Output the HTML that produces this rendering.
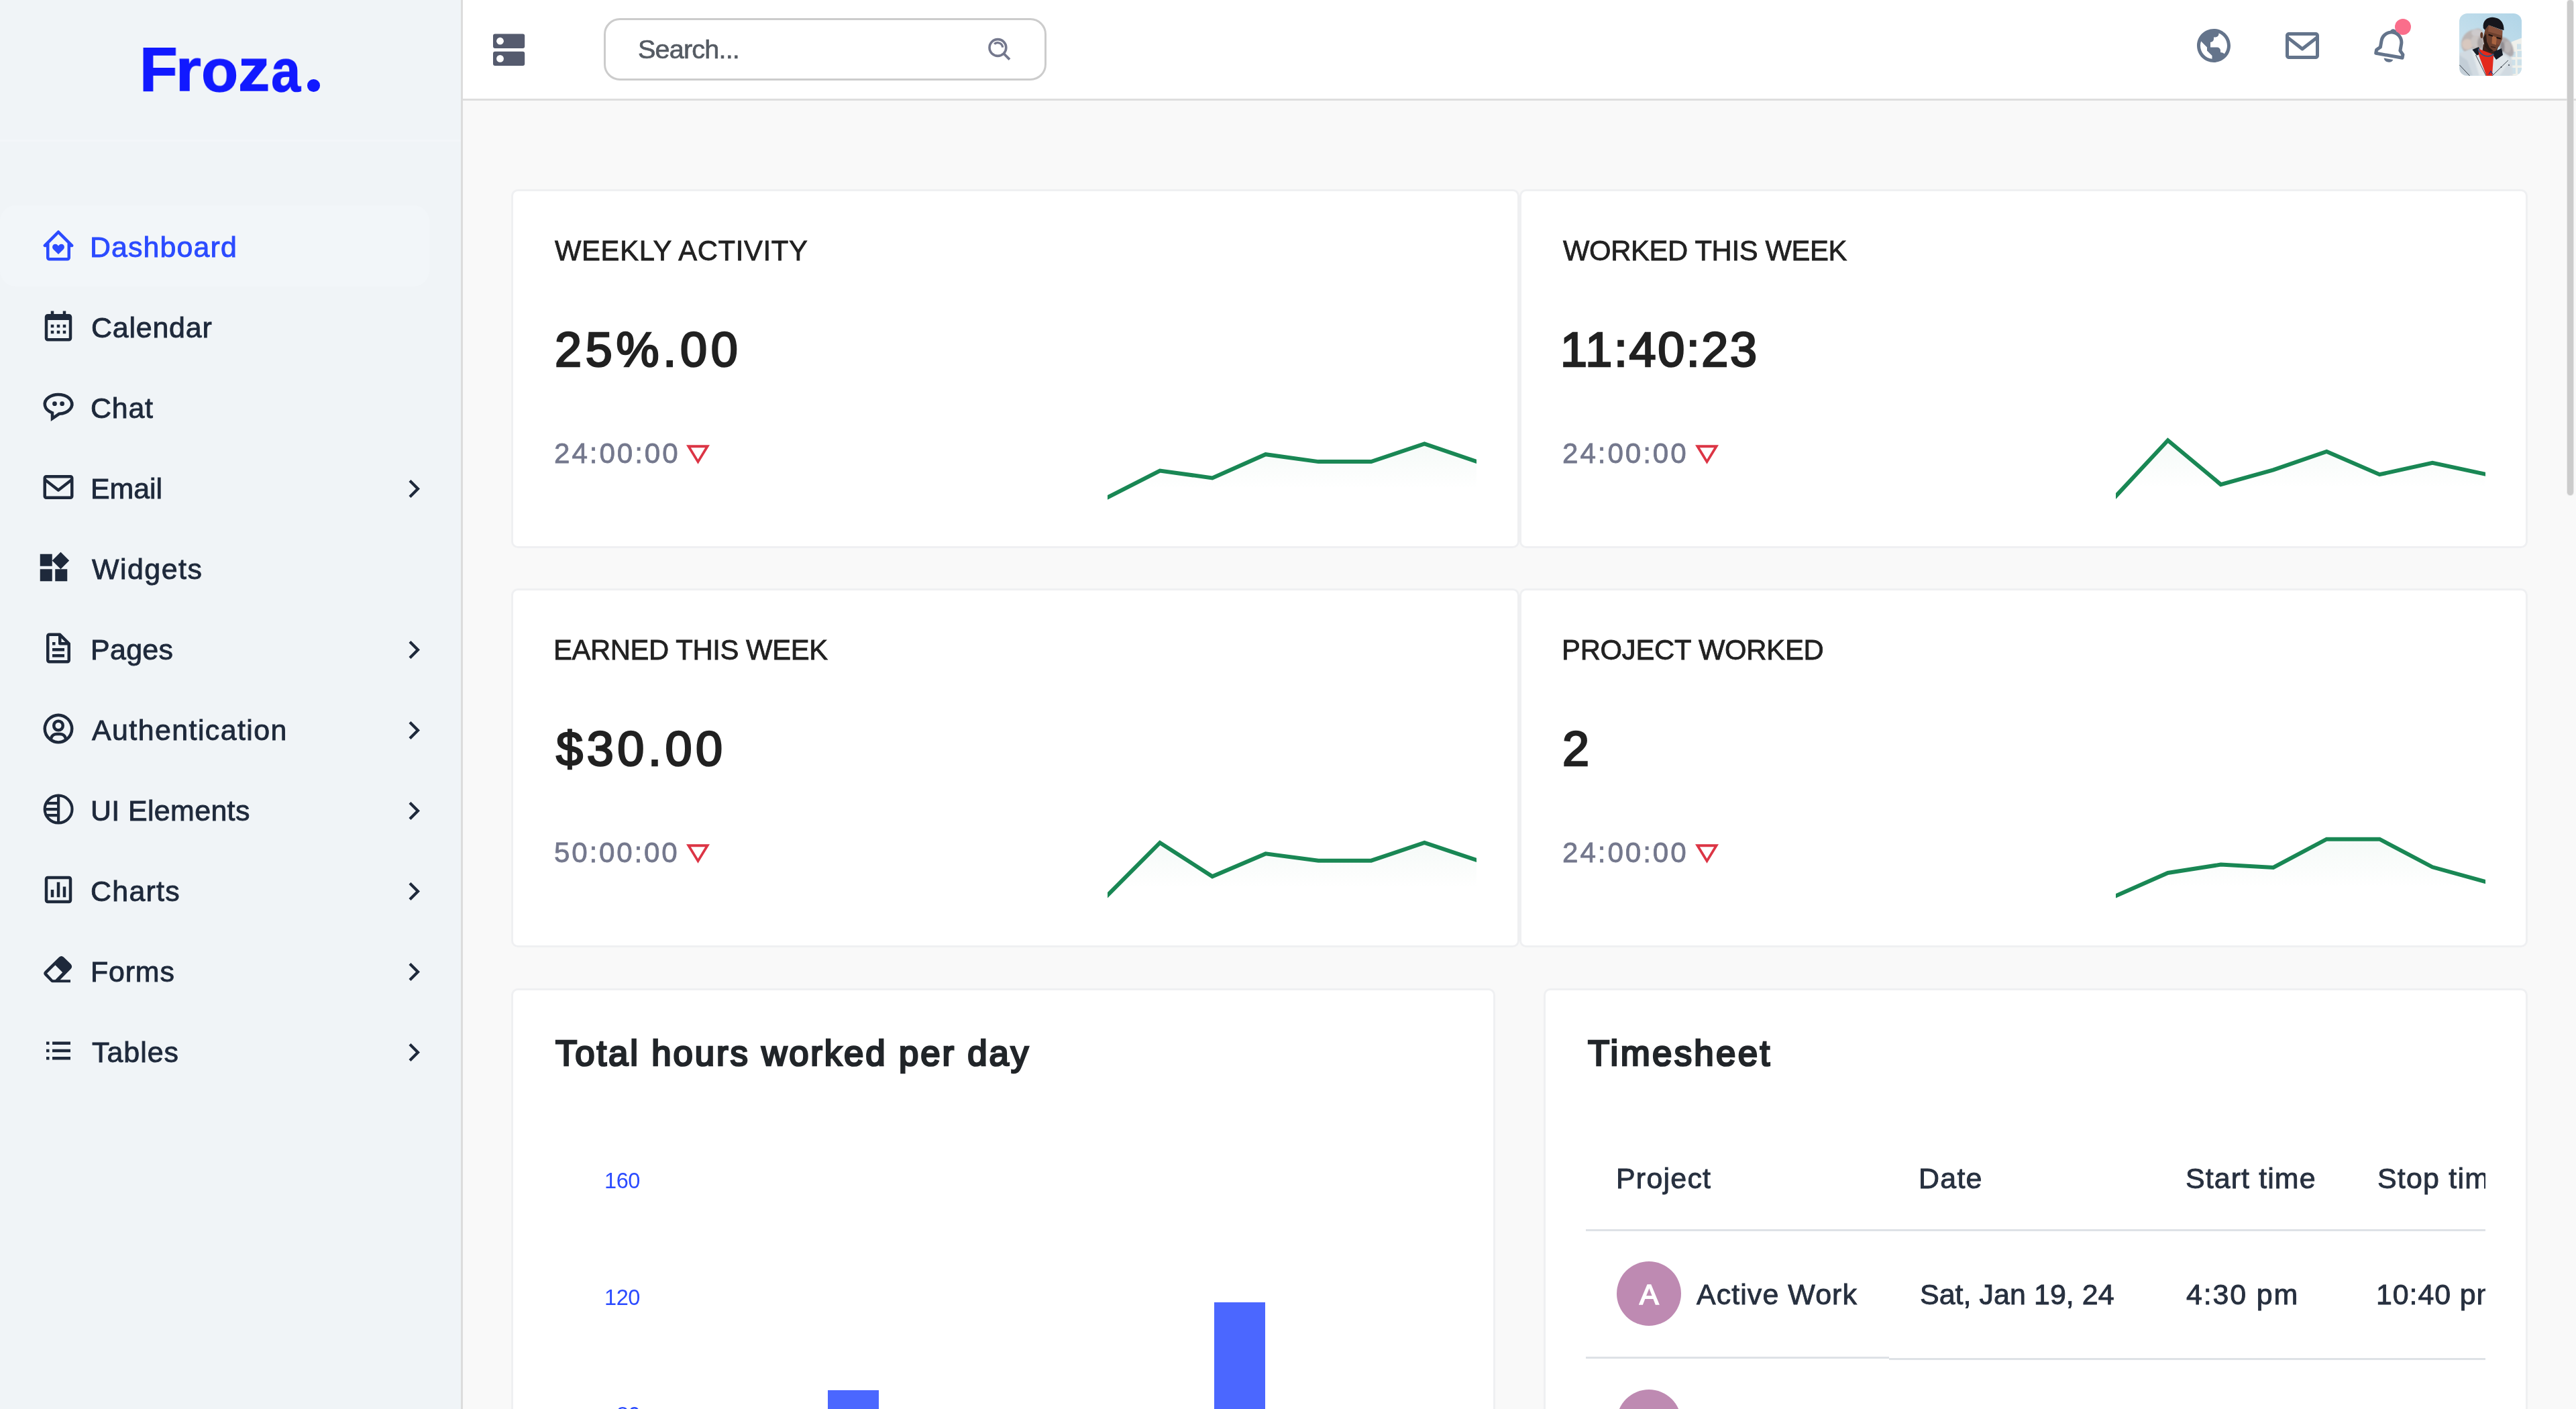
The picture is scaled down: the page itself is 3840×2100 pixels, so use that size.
<!DOCTYPE html>
<html lang="en">
<head>
<meta charset="utf-8">
<title>Froza - Dashboard</title>
<style>
*{box-sizing:border-box;margin:0;padding:0}
html,body{width:3840px;height:2100px;background:#f9f9f9;font-family:"Liberation Sans",sans-serif;}
#page{position:relative;width:3840px;height:2100px;overflow:hidden;background:#f9f9f9}
@media (min-resolution:2.5dppx){html{zoom:.333333}}
@media (min-resolution:1.5dppx) and (max-resolution:2.49dppx){html{zoom:.5}}
.abs{position:absolute}
.t{position:absolute;white-space:nowrap;line-height:1;font-family:"Liberation Sans",sans-serif;will-change:transform}
svg{position:absolute;overflow:visible}
#sidebar{position:absolute;left:0;top:0;width:690px;height:2100px;background:#f0f4f7;border-right:3px solid #dcdcdc}
#sidebar .sep{position:absolute;left:0;top:208px;width:687px;height:3px;background:#f3f6f9}
#sidebar .active{position:absolute;left:0;top:306px;width:640px;height:121px;border-radius:24px;background:#f2f6f9}
#topbar{position:absolute;left:690px;top:0;width:3150px;height:150px;background:#fff;border-bottom:3px solid #dedede}
#search{position:absolute;left:210px;top:27px;width:660px;height:93px;border:3px solid #cccccc;border-radius:24px;background:#fff}
#main{position:absolute;left:690px;top:150px;width:3150px;height:1950px;background:#f9f9f9;overflow:hidden}
.card{position:absolute;background:#fff;border:3px solid #eff0f2;border-radius:10px}
ul{list-style:none}a{text-decoration:none;color:inherit}
.dot{position:absolute;border-radius:50%}
#thumb{position:absolute;left:3826.5px;top:0;width:9px;height:738px;border-radius:4.5px;background:#cccccc;box-shadow:0 0 0 1px rgba(225,225,225,.7)}
.hr{position:absolute;height:3px;background:#dee2e6}
</style>
</head>
<body>
<div id="page">
<aside id="sidebar">
  <div class="sep"></div>
  <a href="#" class="brand"><span class="t" style="left:207.70px;top:56.30px;font-size:93.5px;color:#1119ff;font-weight:700;-webkit-text-stroke:1.4px #1119ff;transform:scale(0.9919,1.0000);transform-origin:5.30px 79.00px">F</span><span class="t" style="left:261.70px;top:56.33px;font-size:93.5px;color:#1119ff;font-weight:700;-webkit-text-stroke:1.4px #1119ff;transform:scale(1.0428,0.9550);transform-origin:5.30px 79.00px">r</span><span class="t" style="left:299.50px;top:56.93px;font-size:93.5px;color:#1119ff;font-weight:700;-webkit-text-stroke:1.4px #1119ff;transform:scale(0.9599,0.9550);transform-origin:2.30px 79.00px">o</span><span class="t" style="left:354.80px;top:56.33px;font-size:93.5px;color:#1119ff;font-weight:700;-webkit-text-stroke:1.4px #1119ff;transform:scale(1.0094,0.9550);transform-origin:2.30px 79.00px">z</span><span class="t" style="left:404.20px;top:56.93px;font-size:93.5px;color:#1119ff;font-weight:700;-webkit-text-stroke:1.4px #1119ff;transform:scale(0.8416,0.9550);transform-origin:1.30px 79.00px">a</span><span class="dot" style="left:458px;top:118.3px;width:19.2px;height:18.6px;background:#1119ff"></span></a>
  <nav>
    <div class="active"></div>
    <ul>
      <li class="on"><a href="#"><svg style="left:60px;top:339.3px" width="54" height="54" viewBox="0 0 24 24" fill="#2b4bff" ><path d="M12.71 2.29a1 1 0 0 0-1.42 0l-9 9a1 1 0 0 0 0 1.42A1 1 0 0 0 3 13h1v7a2 2 0 0 0 2 2h12a2 2 0 0 0 2-2v-7h1a1 1 0 0 0 1-1 1 1 0 0 0-.29-.71zM6 20v-9.59l6-6 6 6V20z"/><path d="M12 17.8 8.6 14.4A2 2 0 0 1 8.6 11.6 2 2 0 0 1 11.4 11.6L12 12.2 12.6 11.6A2 2 0 0 1 15.4 11.6 2 2 0 0 1 15.4 14.4Z"/></svg><span class="t" style="left:134.05px;top:346.65px;font-size:42.9px;color:#2b4bff;letter-spacing:1.116px;-webkit-text-stroke:0.9px #2b4bff">Dashboard</span></a></li>
      <li><a href="#"><svg style="left:60px;top:459.3px" width="54" height="54" viewBox="0 0 24 24" fill="#1e293b" ><path d="M7 11h2v2H7zm0 4h2v2H7zm4-4h2v2h-2zm0 4h2v2h-2zm4-4h2v2h-2zm0 4h2v2h-2z"/><path d="M5 22h14c1.103 0 2-.897 2-2V6c0-1.103-.897-2-2-2h-2V2h-2v2H9V2H7v2H5c-1.103 0-2 .897-2 2v14c0 1.103.897 2 2 2zM19 8l.001 12H5V8h14z"/></svg><span class="t" style="left:135.89px;top:466.65px;font-size:42.9px;color:#1e293b;letter-spacing:0.804px;-webkit-text-stroke:0.9px #1e293b">Calendar</span></a></li>
      <li><a href="#"><svg style="left:60px;top:579.0px" width="54" height="54" viewBox="0 0 24 24" fill="#1e293b" ><path d="M8 19.9 V16.13 A9 6.4 0 1 1 12.5 16.79 Z" fill="none" stroke="#1e293b" stroke-width="2" stroke-linejoin="miter"/><circle cx="9.55" cy="10.1" r="1.5"/><circle cx="14.5" cy="10.1" r="1.5"/></svg><span class="t" style="left:135.20px;top:586.65px;font-size:42.9px;color:#1e293b;letter-spacing:0.806px;-webkit-text-stroke:0.9px #1e293b">Chat</span></a></li>
      <li><a href="#"><svg style="left:60px;top:699.3px" width="54" height="54" viewBox="0 0 24 24" fill="#1e293b" ><path d="M20 4H4c-1.103 0-2 .897-2 2v12c0 1.103.897 2 2 2h16c1.103 0 2-.897 2-2V6c0-1.103-.897-2-2-2zm0 2v.511l-8 6.223-8-6.222V6h16zM4 18V9.044l7.386 5.745a.994.994 0 0 0 1.228 0L20 9.044 20.002 18H4z"/></svg><span class="t" style="left:135.45px;top:706.65px;font-size:42.9px;color:#1e293b;letter-spacing:-0.055px;-webkit-text-stroke:0.9px #1e293b">Email</span><svg style="left:592.1px;top:703.1px" width="51" height="51" viewBox="0 0 24 24" fill="#1e293b" ><path d="M13.1717 12.0007L8.22192 7.05093L9.63614 5.63672L16.0001 12.0007L9.63614 18.3646L8.22192 16.9504L13.1717 12.0007Z"/></svg></a></li>
      <li><a href="#"><svg style="left:53.35px;top:819.3px" width="54" height="54" viewBox="0 0 24 24" fill="#1e293b" ><path d="M13 13v8h8v-8h-8zM3 21h8v-8H3v8zM3 3v8h8V3H3zm13.66-1.31L11 7.34 16.66 13l5.66-5.66-5.66-5.65z"/></svg><span class="t" style="left:136.75px;top:826.65px;font-size:42.9px;color:#1e293b;letter-spacing:1.485px;-webkit-text-stroke:0.9px #1e293b">Widgets</span></a></li>
      <li><a href="#"><svg style="left:60px;top:939.3px" width="54" height="54" viewBox="0 0 24 24" fill="#1e293b" ><path d="M19.903 8.586a.997.997 0 0 0-.196-.293l-6-6a.997.997 0 0 0-.293-.196c-.03-.014-.062-.022-.094-.033a.991.991 0 0 0-.259-.051C13.04 2.011 13.021 2 13 2H6c-1.103 0-2 .897-2 2v16c0 1.103.897 2 2 2h12c1.103 0 2-.897 2-2V9c0-.021-.011-.04-.013-.062a.952.952 0 0 0-.051-.259c-.01-.032-.019-.063-.033-.093zM16.586 8H14V5.414L16.586 8zM6 20V4h6v5a1 1 0 0 0 1 1h5l.002 10H6z"/><path d="M8 12h8v2H8zm0 4h8v2H8zm0-8h2v2H8z"/></svg><span class="t" style="left:135.45px;top:946.65px;font-size:42.9px;color:#1e293b;letter-spacing:0.333px;-webkit-text-stroke:0.9px #1e293b">Pages</span><svg style="left:592.1px;top:943.1px" width="51" height="51" viewBox="0 0 24 24" fill="#1e293b" ><path d="M13.1717 12.0007L8.22192 7.05093L9.63614 5.63672L16.0001 12.0007L9.63614 18.3646L8.22192 16.9504L13.1717 12.0007Z"/></svg></a></li>
      <li><a href="#"><svg style="left:60px;top:1059.3px" width="54" height="54" viewBox="0 0 24 24" fill="#1e293b" ><path d="M12 2A10.13 10.13 0 0 0 2 12a10 10 0 0 0 4 7.92V20h.1a9.7 9.7 0 0 0 11.8 0h.1v-.08A10 10 0 0 0 22 12 10.13 10.13 0 0 0 12 2zM8.07 18.93A3 3 0 0 1 11 16.57h2a3 3 0 0 1 2.93 2.36 7.75 7.75 0 0 1-7.86 0zm9.54-1.29A5 5 0 0 0 13 14.57h-2a5 5 0 0 0-4.61 3.07A8 8 0 0 1 4 12a8.1 8.1 0 0 1 8-8 8.1 8.1 0 0 1 8 8 8 8 0 0 1-2.39 5.64z"/><path d="M12 6a3.91 3.91 0 0 0-4 4 3.91 3.91 0 0 0 4 4 3.91 3.91 0 0 0 4-4 3.91 3.91 0 0 0-4-4zm0 6a1.91 1.91 0 0 1-2-2 1.91 1.91 0 0 1 2-2 1.91 1.91 0 0 1 2 2 1.91 1.91 0 0 1-2 2z"/></svg><span class="t" style="left:137.25px;top:1066.65px;font-size:42.9px;color:#1e293b;letter-spacing:1.432px;-webkit-text-stroke:0.9px #1e293b">Authentication</span><svg style="left:592.1px;top:1063.1px" width="51" height="51" viewBox="0 0 24 24" fill="#1e293b" ><path d="M13.1717 12.0007L8.22192 7.05093L9.63614 5.63672L16.0001 12.0007L9.63614 18.3646L8.22192 16.9504L13.1717 12.0007Z"/></svg></a></li>
      <li><a href="#"><svg style="left:60px;top:1179.3px" width="54" height="54" viewBox="0 0 24 24" fill="#1e293b" ><g fill="none" stroke="#1e293b" stroke-width="1.85"><circle cx="12.05" cy="12.05" r="9.07"/><path d="M12.05 3v18.1M3.6 8.05h8.4M3 12.05h9M3.6 16.05h8.4"/></g></svg><span class="t" style="left:135.15px;top:1186.65px;font-size:42.9px;color:#1e293b;letter-spacing:0.375px;-webkit-text-stroke:0.9px #1e293b">UI Elements</span><svg style="left:592.1px;top:1183.1px" width="51" height="51" viewBox="0 0 24 24" fill="#1e293b" ><path d="M13.1717 12.0007L8.22192 7.05093L9.63614 5.63672L16.0001 12.0007L9.63614 18.3646L8.22192 16.9504L13.1717 12.0007Z"/></svg></a></li>
      <li><a href="#"><svg style="left:60px;top:1299.3px" width="54" height="54" viewBox="0 0 24 24" fill="#1e293b" ><path d="M3 5v14c0 1.103.897 2 2 2h14c1.103 0 2-.897 2-2V5c0-1.103-.897-2-2-2H5c-1.103 0-2 .897-2 2zm16.001 14H5V5h14l.001 14z"/><path d="M11 7h2v10h-2zm4 3h2v7h-2zm-8 2h2v5H7z"/></svg><span class="t" style="left:134.85px;top:1306.65px;font-size:42.9px;color:#1e293b;letter-spacing:1.276px;-webkit-text-stroke:0.9px #1e293b">Charts</span><svg style="left:592.1px;top:1303.1px" width="51" height="51" viewBox="0 0 24 24" fill="#1e293b" ><path d="M13.1717 12.0007L8.22192 7.05093L9.63614 5.63672L16.0001 12.0007L9.63614 18.3646L8.22192 16.9504L13.1717 12.0007Z"/></svg></a></li>
      <li><a href="#"><svg style="left:60px;top:1420.3px" width="54" height="54" viewBox="0 0 24 24" fill="#1e293b" ><path fill-rule="evenodd" d="M8.0 19.7 Q7.55 19.7 7.2 19.35 L2.9 15.0 Q1.7 13.6 2.9 12.3 L12.5 2.9 Q14 1.55 15.5 2.9 L20.2 7.4 Q21.7 9.1 20.2 10.8 L13.2 17.85 H20 V19.7 ZM9.98 8.2 L14.75 13 L10.0 17.85 H8.35 L4.45 13.65 Z"/></svg><span class="t" style="left:135.15px;top:1426.65px;font-size:42.9px;color:#1e293b;letter-spacing:0.834px;-webkit-text-stroke:0.9px #1e293b">Forms</span><svg style="left:592.1px;top:1423.1px" width="51" height="51" viewBox="0 0 24 24" fill="#1e293b" ><path d="M13.1717 12.0007L8.22192 7.05093L9.63614 5.63672L16.0001 12.0007L9.63614 18.3646L8.22192 16.9504L13.1717 12.0007Z"/></svg></a></li>
      <li><a href="#"><svg style="left:60px;top:1539.3px" width="54" height="54" viewBox="0 0 24 24" fill="#1e293b" ><path d="M4 6h2v2H4zm0 5h2v2H4zm0 5h2v2H4zm16-8V6H8.023v2H18.8zM8 11h12v2H8zm0 5h12v2H8z"/></svg><span class="t" style="left:137.45px;top:1546.65px;font-size:42.9px;color:#1e293b;letter-spacing:0.993px;-webkit-text-stroke:0.9px #1e293b">Tables</span><svg style="left:592.1px;top:1543.1px" width="51" height="51" viewBox="0 0 24 24" fill="#1e293b" ><path d="M13.1717 12.0007L8.22192 7.05093L9.63614 5.63672L16.0001 12.0007L9.63614 18.3646L8.22192 16.9504L13.1717 12.0007Z"/></svg></a></li>
    </ul>
  </nav>
</aside>
<header id="topbar">
  <!-- menu toggle -->
  <svg style="left:45px;top:50px" width="48" height="49" viewBox="0 0 48 49">
    <rect x="0" y="0.6" width="47.2" height="21.3" rx="3" fill="#555b6e"/>
    <rect x="0" y="26.8" width="47.2" height="21.3" rx="3" fill="#555b6e"/>
    <circle cx="10.5" cy="11.2" r="5.4" fill="#fff"/><circle cx="10.5" cy="37.4" r="5.4" fill="#fff"/>
  </svg>
  <div id="search">
    <span class="t" style="left:48.35px;top:24.25px;font-size:39.6px;color:#555b63;letter-spacing:-0.824px;-webkit-text-stroke:0.7px #555b63">Search...</span>
    <svg style="left:567px;top:24px" width="42" height="42" viewBox="0 0 42 42" fill="none" stroke="#74788d" stroke-width="3.6">
      <circle cx="17.4" cy="17" r="12.4"/>
      <path d="M26.4 26 L35 34.6" stroke-width="3.8"/>
      <path d="M12.2 11.6 A7.4 7.4 0 0 1 24.6 16.6" stroke-width="3.2"/>
    </svg>
  </div>
  <svg style="left:2580px;top:38px" width="60" height="60" viewBox="0 0 24 24" fill="#64748b" ><path d="M12 2C6.486 2 2 6.486 2 12s4.486 10 10 10 10-4.486 10-10S17.514 2 12 2zM4 12c0-.899.156-1.762.431-2.569L6 11l2 2v2l2 2 1 1v1.931C7.061 19.436 4 16.072 4 12zm14.33 4.873C17.677 16.347 16.687 16 16 16v-1a2 2 0 0 0-2-2h-4v-3a2 2 0 0 0 2-2V7h1a2 2 0 0 0 2-2v-.411C17.928 5.778 20 8.65 20 12a7.947 7.947 0 0 1-1.67 4.873z"/></svg>
  <svg style="left:2712px;top:38px" width="60" height="60" viewBox="0 0 24 24" fill="#64748b" ><path d="M20 4H4c-1.103 0-2 .897-2 2v12c0 1.103.897 2 2 2h16c1.103 0 2-.897 2-2V6c0-1.103-.897-2-2-2zm0 2v.511l-8 6.223-8-6.222V6h16zM4 18V9.044l7.386 5.745a.994.994 0 0 0 1.228 0L20 9.044 20.002 18H4z"/></svg>
  <span class="dot" style="left:2880px;top:28px;width:24px;height:24px;background:#fa6e8b"></span>
  <svg style="transform:rotate(10deg);left:2844px;top:38px" width="60" height="60" viewBox="0 0 24 24" fill="#64748b" ><path d="M19 13.586V10c0-3.217-2.185-5.927-5.145-6.742C13.562 2.52 12.846 2 12 2s-1.562.52-1.855 1.258C7.185 4.074 5 6.783 5 10v3.586l-1.707 1.707A.996.996 0 0 0 3 16v2a1 1 0 0 0 1 1h16a1 1 0 0 0 1-1v-2a.996.996 0 0 0-.293-.707L19 13.586zM19 17H5v-.586l1.707-1.707A.996.996 0 0 0 7 14v-4c0-2.757 2.243-5 5-5s5 2.243 5 5v4c0 .266.105.52.293.707L19 16.414V17zm-7 5a2.98 2.98 0 0 0 2.818-2H9.182A2.98 2.98 0 0 0 12 22z"/></svg>
  <svg style="left:2976px;top:20px" width="93" height="93" viewBox="0 0 93 93">
    <defs>
      <linearGradient id="sky" x1="0.8" y1="0" x2="0.2" y2="1"><stop offset="0" stop-color="#b3d6e8"/><stop offset="1" stop-color="#d2e6ef"/></linearGradient>
      <filter id="b1" x="-20%" y="-20%" width="140%" height="140%"><feGaussianBlur stdDeviation="0.7"/></filter>
      <filter id="b2" x="-30%" y="-30%" width="160%" height="160%"><feGaussianBlur stdDeviation="2"/></filter>
      <filter id="b3" x="-30%" y="-30%" width="160%" height="160%"><feGaussianBlur stdDeviation="1.2"/></filter>
      <clipPath id="avc"><rect width="93" height="93" rx="12"/></clipPath>
    </defs>
    <g clip-path="url(#avc)">
      <rect width="93" height="93" fill="url(#sky)"/>
      <g filter="url(#b1)">
        <path d="M77.5 42.5 L93 36.5 V93 H75 Z" fill="#eff0eb"/>
        <path d="M86 45.5h6v8h-6zM78.5 57h5.5v8h-5.5zM86.5 56h6.5v9h-6.5zM78 69h5.5v8.500h-5.500zM86.500 68.500h6.500v9h-6.500zM78 81h6v9h-6zM87 81h6v9h-6z" fill="#cde1ea"/>
      </g>
      <g filter="url(#b3)">
        <path d="M4 52 C0 40 8 26 22 24 C30 20 36 24 36 32 L38 50 L30 56 L18 54 L8 58 Z" fill="#bcb5b4"/>
        <ellipse cx="26" cy="29" rx="8" ry="5.500" fill="#cdcacc"/>
        <ellipse cx="12" cy="46" rx="8" ry="8" fill="#d8c8bf"/>
        <ellipse cx="24" cy="42" rx="7" ry="9" fill="#cbc5c3"/>
        <ellipse cx="31" cy="44" rx="4" ry="8" fill="#a9a3a3"/>
        <path d="M60 36 C70 32 80 44 81 56 C82 64 76 68 70 62 L62 56 Z" fill="#aeaaad"/>
        <ellipse cx="72" cy="50" rx="5" ry="9" fill="#bdb9ba"/>
        <ellipse cx="64" cy="50" rx="3.500" ry="8" fill="#8f8b8f"/>
      </g>
      <g filter="url(#b3)">
        <path d="M0 59 L10 56 L19 52.500 L30 60 L52 62 L64 57 L78 66 L80 93 H0 Z" fill="#d1dae1"/>
        <path d="M18 54 L24 56 L43 93 H30 Z" fill="#e4e9ec"/>
        <path d="M52 66 L68 62 L76 70 L60 93 H46 Z" fill="#dfe6ea"/>
        <path d="M0 62 L12 70 L20 93 H0 Z" fill="#c3ced7"/>
      </g>
      <g filter="url(#b1)">
        <path d="M36 46 L58 50 L54 62 L34 58 Z" fill="#3b241d"/><path d="M19.500 54 L29 50 L33 60 L26 62.500 Z" fill="#131b25"/>
        <path d="M52 57 L63 52 L65 62 L55 69 L51 63 Z" fill="#121a25"/>
        <path d="M28.200 52.400 L51.200 61.300 L49 93 H40.500 L29.400 63 Z" fill="#e3291d"/>
        <path d="M28.200 52.400 C31 62 42 68 51.200 60.500" fill="none" stroke="#2a5c85" stroke-width="1.700"/>
        <path d="M24.500 62 L40 93 M73 69.800 L49 93 M0.200 76.700 L15.600 93" stroke="#2a323b" stroke-width="0.900" fill="none"/>
        <path d="M44 91 l3 -5 l3 5" stroke="#1f3f8f" stroke-width="1.200" fill="none"/>
        <circle cx="62.500" cy="80" r="0.900" fill="#222a33"/><circle cx="74" cy="77" r="0.900" fill="#222a33"/>
        <path d="M35.800 22 C34 8 46 4 54 6.500 C62 8 67 15 66.500 25 L62 24 L44 17.500 L38.500 25 Z" fill="#15141a"/>
        <path d="M38.500 24 L44 17.500 L64.500 25.500 L64 38 L60 48 L54 56 L45 57.500 L38 50 L35.500 38 Z" fill="#6c3f2f"/>
        <path d="M44 18 L64 25.500 L63.500 33 L43 27 Z" fill="#8a533c"/>
        <path d="M49 33 L56 36 L55 47 L48.500 45 Z" fill="#a8633f"/>
        <path d="M56 38 L63 40 L60 47 L56 46 Z" fill="#7f4a35"/>
        <path d="M35.500 36 L38 50 L45 57.500 L51 56 L45 51 L41 42 L40 30 Z" fill="#2b1a18"/>
        <ellipse cx="33.300" cy="32.500" rx="2" ry="4.500" fill="#5e3728"/>
        <path d="M43.500 31.500 l6.500 2.300 M55.500 36 l6.500 1.600" stroke="#160f0e" stroke-width="1.900"/>
        <path d="M47 49.500 l7 1.500" stroke="#3a211c" stroke-width="1.600"/>
      </g>
    </g>
  </svg>
</header>
<main id="main">
  <svg width="0" height="0" style="left:0;top:0"><defs><linearGradient id="spk" x1="0" y1="0" x2="0" y2="1"><stop offset="0" stop-color="#198754" stop-opacity="0.045"/><stop offset="0.75" stop-color="#198754" stop-opacity="0"/></linearGradient></defs></svg>
  <section class="card" style="left:72px;top:132px;width:1503px;height:535px">
    <span class="t" style="left:62.20px;top:68.20px;font-size:41.8px;color:#212121;letter-spacing:0.644px;-webkit-text-stroke:0.8px #212121">WEEKLY ACTIVITY</span><span class="t" style="left:62.30px;top:199.60px;font-size:72.0px;color:#212121;letter-spacing:5.710px;-webkit-text-stroke:2.6px #212121">25%.00</span><span class="t" style="left:60.90px;top:370.40px;font-size:42.2px;color:#74788d;letter-spacing:2.921px;-webkit-text-stroke:0.8px #74788d">24:00:00</span>
    <svg style="left:257.8px;top:378px" width="35" height="29" viewBox="0 0 34.8 28.2"><path fill-rule="evenodd" fill="#dc3545" d="M0 0H34.8L17.4 28.2ZM6.8 4H28L17.4 21.2Z"/></svg>
    <svg style="left:885.8px;top:0;overflow:hidden" width="550.5" height="529"><polygon points="-10,467 -10.0,461.5 78.1,416.5 156.2,427.4 235.6,392.2 314.3,403.1 393.0,403.1 472.4,376.5 560.5,406.5 560.5,467" fill="url(#spk)"/><polyline points="-10.0,461.5 78.1,416.5 156.2,427.4 235.6,392.2 314.3,403.1 393.0,403.1 472.4,376.5 560.5,406.5" fill="none" stroke="#198754" stroke-width="6" stroke-linejoin="miter"/></svg>
  </section>
  <section class="card" style="left:1575px;top:132px;width:1503px;height:535px">
    <span class="t" style="left:61.50px;top:68.20px;font-size:41.8px;color:#212121;letter-spacing:-0.362px;-webkit-text-stroke:0.8px #212121">WORKED THIS WEEK</span><span class="t" style="left:58.40px;top:199.60px;font-size:72.0px;color:#212121;letter-spacing:2.589px;-webkit-text-stroke:2.6px #212121">11:40:23</span><span class="t" style="left:61.00px;top:370.40px;font-size:42.2px;color:#74788d;letter-spacing:2.921px;-webkit-text-stroke:0.8px #74788d">24:00:00</span>
    <svg style="left:258.8px;top:378px" width="35" height="29" viewBox="0 0 34.8 28.2"><path fill-rule="evenodd" fill="#dc3545" d="M0 0H34.8L17.4 28.2ZM6.8 4H28L17.4 21.2Z"/></svg>
    <svg style="left:886.3px;top:0;overflow:hidden" width="550.3" height="529"><polygon points="-10,467 -10.0,465.2 77.6,371.3 156.5,437.1 234.8,415.4 314.3,388 393.2,422.2 472.0,404.8 560.3,423.7 560.3,467" fill="url(#spk)"/><polyline points="-10.0,465.2 77.6,371.3 156.5,437.1 234.8,415.4 314.3,388 393.2,422.2 472.0,404.8 560.3,423.7" fill="none" stroke="#198754" stroke-width="6" stroke-linejoin="miter"/></svg>
  </section>
  <section class="card" style="left:72px;top:727px;width:1503px;height:535px">
    <span class="t" style="left:59.70px;top:68.20px;font-size:41.8px;color:#212121;letter-spacing:-0.395px;-webkit-text-stroke:0.8px #212121">EARNED THIS WEEK</span><span class="t" style="left:64.40px;top:199.60px;font-size:72.0px;color:#212121;letter-spacing:5.585px;-webkit-text-stroke:2.6px #212121">$30.00</span><span class="t" style="left:61.40px;top:370.40px;font-size:42.2px;color:#74788d;letter-spacing:2.778px;-webkit-text-stroke:0.8px #74788d">50:00:00</span>
    <svg style="left:257.8px;top:378px" width="35" height="29" viewBox="0 0 34.8 28.2"><path fill-rule="evenodd" fill="#dc3545" d="M0 0H34.8L17.4 28.2ZM6.8 4H28L17.4 21.2Z"/></svg>
    <svg style="left:885.8px;top:0;overflow:hidden" width="550.5" height="529"><polygon points="-10,467 -10.0,464.2 78.1,376 156.2,426.3 235.6,392.4 314.3,402.7 393.0,402.7 472.4,376 560.5,405.4 560.5,467" fill="url(#spk)"/><polyline points="-10.0,464.2 78.1,376 156.2,426.3 235.6,392.4 314.3,402.7 393.0,402.7 472.4,376 560.5,405.4" fill="none" stroke="#198754" stroke-width="6" stroke-linejoin="miter"/></svg>
  </section>
  <section class="card" style="left:1575px;top:727px;width:1503px;height:535px">
    <span class="t" style="left:60.00px;top:68.20px;font-size:41.8px;color:#212121;letter-spacing:-0.252px;-webkit-text-stroke:0.8px #212121">PROJECT WORKED</span><span class="t" style="left:61.30px;top:199.60px;font-size:72.0px;color:#212121;-webkit-text-stroke:2.6px #212121">2</span><span class="t" style="left:61.00px;top:370.40px;font-size:42.2px;color:#74788d;letter-spacing:2.921px;-webkit-text-stroke:0.8px #74788d">24:00:00</span>
    <svg style="left:258.8px;top:378px" width="35" height="29" viewBox="0 0 34.8 28.2"><path fill-rule="evenodd" fill="#dc3545" d="M0 0H34.8L17.4 28.2ZM6.8 4H28L17.4 21.2Z"/></svg>
    <svg style="left:886.3px;top:0;overflow:hidden" width="550.3" height="529"><polygon points="-10,467 -10.0,459.6 77.6,421 156.5,408.6 234.8,412.9 314.3,370.7 393.2,370.7 472.0,412.3 560.3,436.8 560.3,467" fill="url(#spk)"/><polyline points="-10.0,459.6 77.6,421 156.5,408.6 234.8,412.9 314.3,370.7 393.2,370.7 472.0,412.3 560.3,436.8" fill="none" stroke="#198754" stroke-width="6" stroke-linejoin="miter"/></svg>
  </section>
  <section class="card" style="left:72px;top:1323px;width:1467px;height:900px">
    <span class="t" style="left:63.33px;top:68.45px;font-size:52.8px;color:#212529;letter-spacing:2.852px;-webkit-text-stroke:2.7px #212529">Total hours worked per day</span><span class="t" style="left:135.80px;top:268.00px;font-size:32.6px;color:#2b4bff;letter-spacing:-0.468px">160</span><span class="t" style="left:135.80px;top:442.30px;font-size:32.6px;color:#2b4bff;letter-spacing:-0.468px">120</span><span class="t" style="left:153.60px;top:616.50px;font-size:32.8px;color:#2b4bff;letter-spacing:-0.740px">80</span>
    <div class="abs" style="left:468.5px;top:596px;width:76.8px;height:300px;background:#4b67ff"></div>
    <div class="abs" style="left:1044.5px;top:464.79999999999995px;width:76.8px;height:400px;background:#4b67ff"></div>
  </section>
  <section class="card" style="left:1611px;top:1323px;width:1467px;height:900px">
    <span class="t" style="left:62.97px;top:68.45px;font-size:52.8px;color:#212529;letter-spacing:3.319px;-webkit-text-stroke:2.7px #212529">Timesheet</span>
    <div class="abs" style="left:60px;top:204px;width:1341px;height:700px;overflow:hidden">
      <span class="t" style="left:44.95px;top:54.55px;font-size:42.9px;color:#27303f;letter-spacing:1.255px;-webkit-text-stroke:0.9px #27303f">Project</span><span class="t" style="left:496.05px;top:54.55px;font-size:42.9px;color:#27303f;letter-spacing:1.285px;-webkit-text-stroke:0.9px #27303f">Date</span><span class="t" style="left:894.45px;top:54.55px;font-size:42.9px;color:#27303f;letter-spacing:1.115px;-webkit-text-stroke:0.9px #27303f">Start time</span><span class="t" style="left:1180.35px;top:54.55px;font-size:42.9px;color:#27303f;letter-spacing:1.222px;-webkit-text-stroke:0.9px #27303f">Stop time</span>
      <div class="hr" style="left:0;top:152px;width:1400px"></div>
      <span class="dot" style="left:46px;top:200px;width:96px;height:96px;background:#be8ab2"></span>
      <span class="t" style="left:80.45px;top:227.85px;font-size:42.9px;color:#ffffff;-webkit-text-stroke:1.7px #ffffff">A</span><span class="t" style="left:165.25px;top:228.25px;font-size:42.9px;color:#27303f;letter-spacing:1.090px;-webkit-text-stroke:0.9px #27303f">Active Work</span><span class="t" style="left:498.25px;top:228.25px;font-size:42.9px;color:#27303f;letter-spacing:0.076px;-webkit-text-stroke:0.9px #27303f">Sat, Jan 19, 24</span><span class="t" style="left:895.45px;top:228.25px;font-size:42.9px;color:#27303f;letter-spacing:1.892px;-webkit-text-stroke:0.9px #27303f">4:30 pm</span><span class="t" style="left:1178.35px;top:228.25px;font-size:42.9px;color:#27303f;letter-spacing:0.928px;-webkit-text-stroke:0.9px #27303f">10:40 pm</span>
      <div class="hr" style="left:0;top:342px;width:451.8000000000002px"></div>
      <div class="hr" style="left:451.8000000000002px;top:344px;width:1000px"></div>
      <span class="dot" style="left:46px;top:390.6999999999998px;width:96px;height:96px;background:#be8ab2"></span>
    </div>
  </section>
</main>
<div id="thumb"></div>
</div>
</body>
</html>
